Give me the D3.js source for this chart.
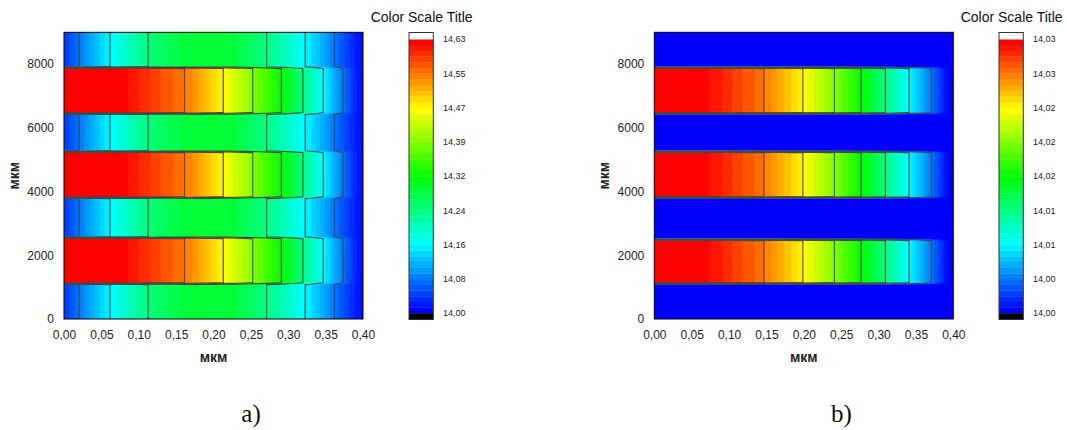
<!DOCTYPE html>
<html>
<head>
<meta charset="utf-8">
<script src="https://cdn.jsdelivr.net/npm/d3@7"></script>
<style>
  body { margin: 0; background: #fff; }
  svg { display: block; font-family: "Liberation Sans", Arial, sans-serif; }
</style>
</head>
<body>
<svg id="chart" width="1067" height="430"></svg>
<script>
// sample positions across the layer (мкм)
const xSamples = [0.00, 0.01, 0.02, 0.03, 0.04, 0.05, 0.06, 0.07, 0.08, 0.09,
  0.10, 0.11, 0.12, 0.13, 0.14, 0.15, 0.16, 0.17, 0.18, 0.19,
  0.20, 0.21, 0.22, 0.23, 0.24, 0.25, 0.26, 0.27, 0.28, 0.29,
  0.30, 0.31, 0.32, 0.33, 0.34, 0.35, 0.36, 0.37, 0.38, 0.39, 0.40];

// panel a) – profile inside the hot stripes
const hotA = [14.628, 14.628, 14.627, 14.626, 14.625, 14.624, 14.622, 14.621, 14.619, 14.615,
  14.604, 14.595, 14.586, 14.577, 14.569, 14.561, 14.553, 14.540, 14.524, 14.508,
  14.493, 14.478, 14.460, 14.440, 14.419, 14.399, 14.378, 14.358, 14.339, 14.317,
  14.290, 14.262, 14.235, 14.206, 14.177, 14.148, 14.118, 14.089, 14.057, 14.030, 14.008];
// panel a) – profile between the stripes
const coldA = [14.040, 14.058, 14.078, 14.097, 14.116, 14.135, 14.155, 14.172, 14.188, 14.203,
  14.218, 14.233, 14.246, 14.256, 14.265, 14.272, 14.278, 14.283, 14.286, 14.288,
  14.288, 14.286, 14.282, 14.276, 14.268, 14.258, 14.247, 14.238, 14.222, 14.207,
  14.192, 14.177, 14.162, 14.145, 14.124, 14.103, 14.082, 14.062, 14.043, 14.025, 14.010];

// panel b)
const hotB = [14.0318, 14.0318, 14.0317, 14.0317, 14.0316, 14.0316, 14.0315, 14.0314, 14.0312, 14.0307,
  14.0302, 14.0297, 14.0292, 14.0288, 14.0284, 14.0278, 14.0270, 14.0262, 14.0255, 14.0247,
  14.0239, 14.0230, 14.0220, 14.0211, 14.0201, 14.0190, 14.0179, 14.0168, 14.0156, 14.0144,
  14.0131, 14.0119, 14.0106, 14.0094, 14.0081, 14.0068, 14.0055, 14.0041, 14.0025, 14.0008, 14.0002];
const coldB = [14.0002, 14.0002, 14.0002, 14.0002, 14.0002, 14.0002, 14.0002, 14.0002, 14.0002, 14.0002,
  14.0002, 14.0002, 14.0002, 14.0002, 14.0002, 14.0002, 14.0002, 14.0002, 14.0002, 14.0002,
  14.0002, 14.0002, 14.0002, 14.0002, 14.0002, 14.0002, 14.0002, 14.0002, 14.0002, 14.0002,
  14.0002, 14.0002, 14.0002, 14.0002, 14.0002, 14.0002, 14.0002, 14.0002, 14.0002, 14.0002, 14.0002];

// hot stripe extents along the vertical axis (мкм)
const stripesA = [[1100, 2520], [3840, 5230], [6450, 7880]];
const stripesB = [[1120, 2510], [3840, 5250], [6440, 7860]];

// colour scale ranges and their labels (bottom to top)
const rangeA = [14.00, 14.63];
const rangeB = [14.000, 14.032];
const cbLabelsA = ["14,00", "14,08", "14,16", "14,24", "14,32", "14,39", "14,47", "14,55", "14,63"];
const cbLabelsB = ["14,00", "14,00", "14,01", "14,01", "14,02", "14,02", "14,02", "14,03", "14,03"];

// axes
const xTickValues = [0, 0.05, 0.10, 0.15, 0.20, 0.25, 0.30, 0.35, 0.40];
const xTickLabels = ["0,00", "0,05", "0,10", "0,15", "0,20", "0,25", "0,30", "0,35", "0,40"];
const yTickValues = [0, 2000, 4000, 6000, 8000];
const yTickLabels = ["0", "2000", "4000", "6000", "8000"];
const yMax = 9000;
const captions = ["a)", "b)"];

const svg = d3.select('#chart');
const nBins = 48;
const rowStep = 60;

const panels = [
  { left: 64, hot: hotA, cold: coldA, stripes: stripesA, range: rangeA, labels: cbLabelsA, bar: 409, caption: captions[0] },
  { left: 654.3, hot: hotB, cold: coldB, stripes: stripesB, range: rangeB, labels: cbLabelsB, bar: 999, caption: captions[1] }
];

panels.forEach((p, pi) => drawPanel(p, pi));

function drawPanel(p, pi) {
  const top = 32.3, bottom = 319, width = 299;
  const x = d3.scaleLinear().domain([0, 0.4]).range([p.left, p.left + width]);
  const y = d3.scaleLinear().domain([0, yMax]).range([bottom, top]);
  const [lo, hi] = p.range;
  const binW = (hi - lo) / nBins;
  const color = k => d3.hsl(240 * (1 - k / (nBins - 1)), 1, 0.5).toString();

  // build the grid, top row first
  const rows = d3.range(yMax, -1, -rowStep);
  const values = [];
  rows.forEach(yv => {
    const hot = p.stripes.some(([a, b]) => yv >= a && yv <= b);
    (hot ? p.hot : p.cold).forEach(v => values.push(v));
  });
  const nx = xSamples.length, ny = rows.length;
  const idx = d3.scaleLinear().domain([0, nx - 1]).range([xSamples[0], xSamples[nx - 1]]);

  const proj = d3.geoTransform({
    point: function(px, py) {
      this.stream.point(x(idx(px - 0.5)), y(yMax - (py - 0.5) * rowStep));
    }
  });
  const path = d3.geoPath(proj);

  const clipId = 'clip' + pi;
  svg.append('clipPath').attr('id', clipId)
    .append('rect')
    .attr('x', p.left).attr('y', top)
    .attr('width', width).attr('height', bottom - top);

  const g = svg.append('g').attr('clip-path', `url(#${clipId})`);

  // filled bands
  const thresholds = d3.range(nBins).map(k => lo + k * binW);
  const bands = d3.contours().size([nx, ny]).thresholds(thresholds)(values);
  g.append('g')
    .selectAll('path')
    .data(bands)
    .join('path')
    .attr('d', path)
    .attr('fill', (d, i) => color(i))
    .attr('stroke', (d, i) => color(i))
    .attr('stroke-width', 0.3);

  // contour lines at the labelled levels
  const levels = d3.range(1, 8).map(k => lo + k * (hi - lo) / 8);
  const lines = d3.contours().size([nx, ny]).thresholds(levels)(values);
  g.append('g')
    .selectAll('path')
    .data(lines)
    .join('path')
    .attr('d', path)
    .attr('fill', 'none')
    .attr('stroke', '#474747')
    .attr('stroke-width', 1.1);

  // frame
  svg.append('rect')
    .attr('x', p.left).attr('y', top)
    .attr('width', width).attr('height', bottom - top)
    .attr('fill', 'none').attr('stroke', '#000').attr('stroke-width', 1);

  // axes
  const xAxis = svg.append('g')
    .attr('transform', `translate(0,${bottom})`)
    .call(d3.axisBottom(x).tickValues(xTickValues).tickSize(0).tickPadding(11)
      .tickFormat((d, i) => xTickLabels[i]));
  const yAxis = svg.append('g')
    .attr('transform', `translate(${p.left},0)`)
    .call(d3.axisLeft(y).tickValues(yTickValues).tickSize(0).tickPadding(10)
      .tickFormat((d, i) => yTickLabels[i]));
  [xAxis, yAxis].forEach(a => {
    a.select('.domain').remove();
    a.selectAll('text').attr('font-size', 12).attr('fill', '#222')
      .attr('font-family', '"Liberation Sans", Arial, sans-serif');
  });

  svg.append('text')
    .attr('x', p.left + width / 2).attr('y', 361.5)
    .attr('text-anchor', 'middle')
    .attr('font-size', 14).attr('font-weight', 'bold').attr('fill', '#222')
    .text('мкм');
  svg.append('text')
    .attr('transform', `translate(${p.left - 45},${(top + bottom) / 2}) rotate(-90)`)
    .attr('text-anchor', 'middle')
    .attr('font-size', 14).attr('font-weight', 'bold').attr('fill', '#222')
    .text('мкм');

  // colour bar
  const cbTop = 39.3, cbBottom = 313.3, barW = 24.3;
  const cb = d3.scaleLinear().domain([lo, hi]).range([cbBottom, cbTop]);
  const bar = svg.append('g');
  bar.selectAll('rect.bin')
    .data(thresholds)
    .join('rect')
    .attr('class', 'bin')
    .attr('x', p.bar).attr('width', barW)
    .attr('y', d => cb(d + binW))
    .attr('height', d => cb(d) - cb(d + binW) + 0.3)
    .attr('fill', (d, i) => color(i));
  bar.append('rect')
    .attr('x', p.bar).attr('y', 32.5).attr('width', barW).attr('height', cbTop - 32.5)
    .attr('fill', '#fff');
  bar.append('rect')
    .attr('x', p.bar).attr('y', cbBottom).attr('width', barW).attr('height', 319.5 - cbBottom)
    .attr('fill', '#000');
  bar.append('rect')
    .attr('x', p.bar).attr('y', 32.5).attr('width', barW).attr('height', 319.5 - 32.5)
    .attr('fill', 'none').attr('stroke', '#333').attr('stroke-width', 1);

  const labelVals = d3.range(9).map(k => lo + k * (hi - lo) / 8);
  bar.selectAll('text.cbl')
    .data(labelVals)
    .join('text')
    .attr('class', 'cbl')
    .attr('x', p.bar + 34)
    .attr('y', d => cb(d))
    .attr('dy', '0.35em')
    .attr('font-size', 9).attr('fill', '#222')
    .text((d, i) => p.labels[i]);

  svg.append('text')
    .attr('x', p.bar + barW / 2 + 0.5).attr('y', 21.5)
    .attr('text-anchor', 'middle')
    .attr('font-size', 14).attr('fill', '#111')
    .text('Color Scale Title');

  // caption
  svg.append('text')
    .attr('x', p.left + width / 2 + 37.5).attr('y', 422)
    .attr('text-anchor', 'middle')
    .attr('font-family', '"Liberation Serif", "DejaVu Serif", serif')
    .attr('font-size', 25).attr('fill', '#111')
    .text(p.caption);
}
</script>
</body>
</html>
